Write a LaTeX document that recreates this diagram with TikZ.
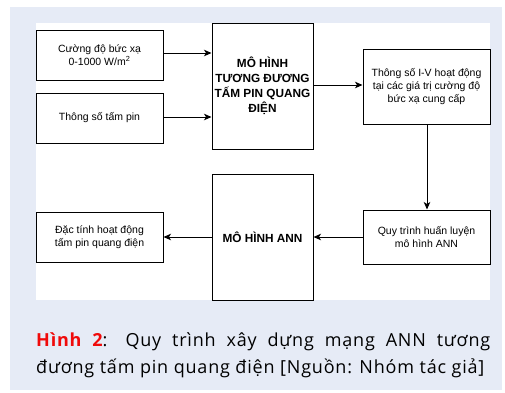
\documentclass[tikz,border=0pt]{standalone}
\usepackage{fontspec}
\setmainfont{Liberation Sans}
\newfontfamily\capfont[LetterSpace=4.5]{Open Sans}
\usetikzlibrary{arrows.meta}
\definecolor{panelbg}{RGB}{230,235,246}
\definecolor{capred}{RGB}{240,10,10}
\tikzset{
  box/.style={draw=black, line width=1pt, fill=white, align=center, inner sep=2pt, font=\fontsize{10.5}{12.8}\selectfont},
  bigbox/.style={box, font=\fontsize{11.8}{15}\selectfont\bfseries},
  arr/.style={line width=1pt, -{Stealth[length=7.5pt,width=6.5pt,inset=2pt]}}
}
\begin{document}
\begin{tikzpicture}[x=1pt,y=-1pt]
\useasboundingbox (0,0) rectangle (505,392);
\fill[white] (0,0) rectangle (505,392);
\fill[panelbg] (10,7) rectangle (502,390);
\fill[white] (36,23) rectangle (490,300);
\node[box, minimum width=127pt, minimum height=50pt] (b1) at (99.5,55) {Cường độ bức xạ\\0-1000 W/m\textsuperscript{2}};
\node[box, minimum width=127pt, minimum height=50pt] (b2) at (99.5,118) {Thông số tấm pin};
\node[bigbox, minimum width=101pt, minimum height=126pt] (eq) at (262.5,86) {MÔ HÌNH\\TƯƠNG ĐƯƠNG\\TẤM PIN QUANG\\ĐIỆN};
\node[box, minimum width=127pt, minimum height=75pt] (iv) at (426.5,86.5) {Thông số I-V hoạt động\\tại các giá trị cường độ\\bức xạ cung cấp};
\node[box, minimum width=127pt, minimum height=54pt] (qt) at (426.5,237) {Quy trình huấn luyện\\mô hình ANN};
\node[bigbox, minimum width=101pt, minimum height=126pt] (ann) at (262.5,237) {MÔ HÌNH ANN};
\node[box, minimum width=127pt, minimum height=50pt] (dt) at (99.5,237) {Đặc tính hoạt động\\tấm pin quang điện};
\draw[arr] (b1.east |- 0,53) coordinate (s1) -- (s1 -| eq.west);
\draw[arr] (b2.east |- 0,117) coordinate (s2) -- (s2 -| eq.west);
\draw[arr] (eq.east |- 0,85) coordinate (s3) -- (s3 -| iv.west);
\draw[arr] (iv) ++(0.5,0) coordinate (s4) (iv.south -| s4) -- (qt.north -| s4);
\draw[arr] (qt.west) -- (ann.east);
\draw[arr] (ann.west) -- (dt.east);
\node[anchor=base west, inner sep=0pt, font=\capfont\fontsize{18}{27}\selectfont] (cap1) at (36,346)
  {\makebox[454pt][s]{\textcolor{capred}{\bfseries Hình 2}: Quy trình xây dựng mạng ANN tương}};
\node[anchor=base west, inner sep=0pt, font=\capfont\fontsize{18}{27}\selectfont] (cap2) at (36,373)
  {đương tấm pin quang điện [Nguồn: Nhóm tác giả]};
\end{tikzpicture}
\end{document}
